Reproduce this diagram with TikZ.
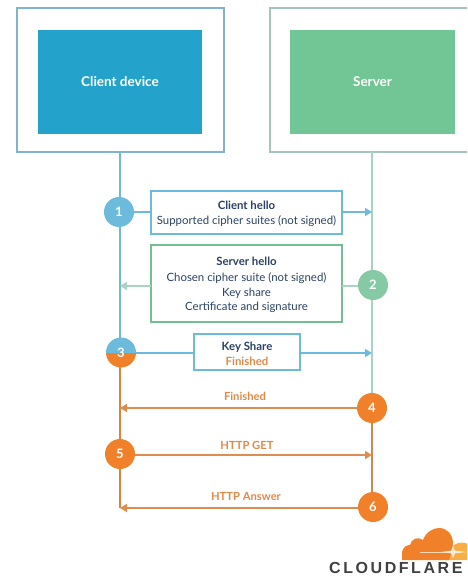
\documentclass[tikz,border=0pt]{standalone}
\usepackage{fontspec}
\setmainfont{Lato}
\newfontfamily\logofont[LetterSpace=16]{Liberation Sans}
\usetikzlibrary{arrows.meta,calc}
\definecolor{cblue}{HTML}{6DBBDC}
\definecolor{cdeep}{HTML}{23A3CB}
\definecolor{cgreen}{HTML}{72C594}
\definecolor{cpale}{HTML}{A9D3C2}
\definecolor{corange}{HTML}{F0812A}
\definecolor{clight}{HTML}{F8AE45}
\definecolor{clabel}{HTML}{E08A4A}
\definecolor{cnavy}{HTML}{2B4266}
\newcommand{\topstrut}{\rule{0pt}{11.5pt}}
\tikzset{
  x=1pt,y=-1pt,
  outerbox/.style={draw,line width=1.8pt,fill=white,anchor=north west,inner sep=0,outer sep=0},
  innerbox/.style={anchor=north west,inner sep=0,outer sep=0,text=white,font=\bfseries\fontsize{13.5}{15}\selectfont,align=center},
  msgbox/.style={draw,line width=1.8pt,fill=white,anchor=north west,inner sep=0,outer sep=0,text=cnavy,align=center,font=\fontsize{11.4}{14.6}\selectfont},
  num/.style={circle,minimum size=30pt,inner sep=0,outer sep=0,text=white,font=\bfseries\fontsize{13}{14}\selectfont},
  life/.style={line width=2pt},
  msg/.style={line width=1.8pt,-{Triangle[length=7pt,width=8pt]}},
  lab/.style={text=clabel,font=\bfseries\fontsize{11.2}{12}\selectfont,inner sep=0},
}
\begin{document}
\begin{tikzpicture}
\useasboundingbox (0,0) rectangle (467,577);
\fill[white] (0,0) rectangle (467,577);
% anchors on the lifelines
\coordinate (cl1) at (120,212);
\coordinate (sv1) at (372,212);
\coordinate (cl2) at (120,286);
\coordinate (sv2) at (372,286);
\coordinate (cl3) at (120,353);
\coordinate (sv3) at (372,353);
\coordinate (cl4) at (120,408);
\coordinate (sv5) at (372,455);
\coordinate (cl6) at (120,508);
% boxes
\node[outerbox,draw=cblue!75!gray!90,minimum width=207pt,minimum height=144pt] (clientouter) at (17,8) {};
\node[innerbox,fill=cdeep,minimum width=164pt,minimum height=104pt] (client) at (38,30) {Client device};
\begin{scope}
\clip (0,0) rectangle (467,577);
\node[outerbox,draw=cpale!85!gray,minimum width=220pt,minimum height=144pt] (serverouter) at (270,8) {};
\end{scope}
\node[innerbox,fill=cgreen,minimum width=165pt,minimum height=104pt] (server) at (290,30) {Server};
% circles (declared first for anchors)
\path (119,212) node[num] (n1) {}
      (373,285) node[num] (n2) {}
      (121,352.5) node[num] (n3) {}
      (372,408) node[num] (n4) {}
      (120,454) node[num] (n5) {}
      (373,507) node[num] (n6) {};
% lifelines
\draw[life,cblue] (clientouter.south -| cl1) -- (cl3);
\draw[life,corange!85!gray] (cl3) -- (cl6);
\draw[life,cpale] (serverouter.south -| sv1) -- (n4.north -| sv1);
\draw[life,corange!70!gray!95] (n4.south -| sv1) -- (n6.north -| sv1);
% message boxes
\node[msgbox,draw=cblue,minimum width=191pt,minimum height=43pt] (m1) at (151,191) {\topstrut\textbf{Client hello}\\Supported cipher suites (not signed)};
\node[msgbox,draw=cgreen!90!gray,minimum width=191pt,minimum height=77pt] (m2) at (151,245) {\topstrut\textbf{Server hello}\\[1pt]Chosen cipher suite (not signed)\\Key share\\Certificate and signature};
\node[msgbox,draw=cblue,minimum width=106pt,minimum height=36pt] (m3) at (194,334) {\topstrut\textbf{Key Share}\\\textcolor{clabel}{\textbf{Finished}}};
% connectors
\draw[line width=1.8pt,cblue] (n1) -- (m1.west |- n1);
\draw[msg,cblue] (m1.east |- sv1) -- (sv1);
\draw[line width=1.8pt,cpale] (n2.west |- sv2) -- (m2.east |- sv2);
\draw[msg,cpale] (m2.west |- cl2) -- (cl2);
\draw[line width=1.8pt,cblue] (n3.east |- cl3) -- (m3.west |- cl3);
\draw[msg,cblue] (m3.east |- sv3) -- (sv3);
\draw[msg,corange!80!gray!90] (n4.west |- cl4) -- (cl4);
\draw[msg,corange!80!gray!90] (n5.east |- sv5) -- (sv5);
\draw[msg,corange!80!gray!90] (n6.west |- cl6) -- (cl6);
% circles drawn on top
\fill[cblue] (n1) circle (15);
\node[num] at (n1) {1};
\fill[cgreen!65!cpale] (n2) circle (15);
\node[num] at (n2) {2};
\begin{scope}
\clip (n3) circle (15);
\fill[cblue] (106,337) rectangle (136,353);
\fill[corange] (106,353) rectangle (136,368);
\end{scope}
\node[num] at (n3) {3};
\fill[corange] (n4) circle (15);
\node[num] at (n4) {4};
\fill[corange] (n5) circle (15);
\node[num] at (n5) {5};
\fill[corange] (n6) circle (15);
\node[num] at (n6) {6};
% labels
\node[lab] (l4) at (245,396) {Finished};
\node[lab] (l5) at (247,445) {HTTP GET};
\node[lab] (l6) at (246,496.5) {HTTP Answer};
% logo
\begin{scope}
\clip (395,520) rectangle (467,560);
\fill[clight] (445,560) .. controls (450,552) and (452,544) .. (458,543)
  .. controls (463,542) and (467,543) .. (472,546) -- (472,560) -- cycle;
\fill[corange] (402,560) -- (402,552) .. controls (403,546) and (408,545) .. (410,545)
  .. controls (411,539) and (418,536) .. (423,540)
  .. controls (426,532) and (433,528) .. (439,528)
  .. controls (447,528) and (452,534) .. (453,542)
  .. controls (453,548) and (451,554) .. (449,560) -- cycle;
\draw[white!70!orange,line width=.8pt] (420,552) -- (450,552);
\fill[white!85!orange] (441,552) -- (451,550.7) -- (453,546) -- (455,550.7) -- (467,552) -- (455,553.3) -- (453,558) -- (451,553.3) -- cycle;
\end{scope}
\node[anchor=base west,inner sep=0,text=black!75,font=\logofont\bfseries\fontsize{16}{18}\selectfont] (logo) at (329,573.5) {CLOUDFLARE};
\end{tikzpicture}
\end{document}
